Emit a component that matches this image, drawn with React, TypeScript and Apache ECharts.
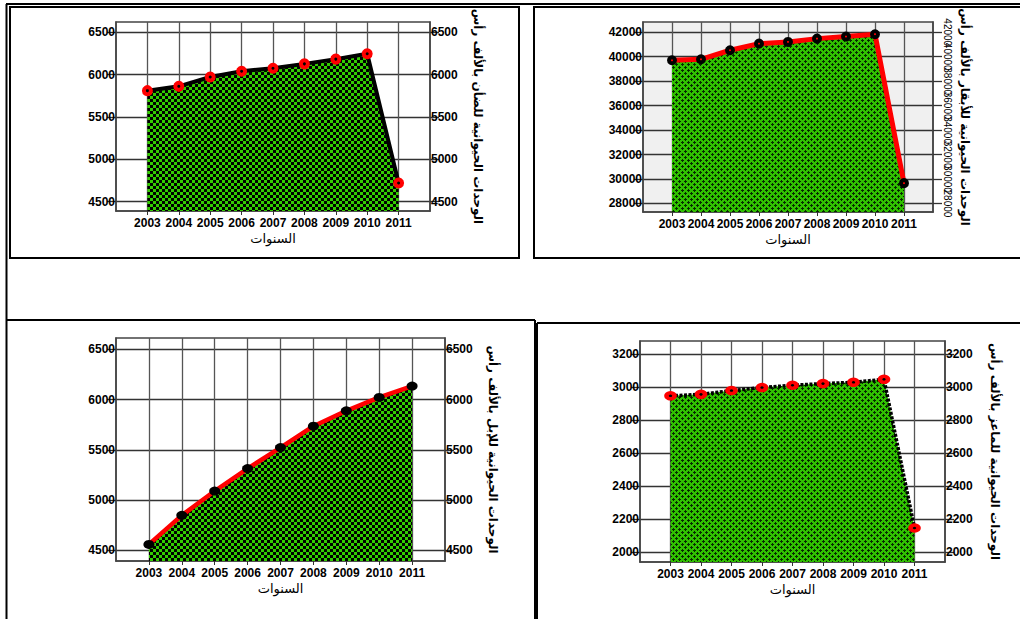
import React, { useEffect, useRef } from 'react';
import * as echarts from 'echarts';

const years = [2003, 2004, 2005, 2006, 2007, 2008, 2009, 2010, 2011];
const sheep = [5810, 5861, 5971, 6039, 6075, 6126, 6182, 6245, 4721];
const cattle = [39710, 39790, 40530, 41070, 41210, 41480, 41650, 41840, 29660];
const camels = [4560, 4849, 5091, 5314, 5523, 5736, 5889, 6022, 6135];
const goats = [2947, 2956, 2979, 2997, 3011, 3021, 3029, 3047, 2147];

const sheepTicks = [4500, 5000, 5500, 6000, 6500];
const cattleTicks = [28000, 30000, 32000, 34000, 36000, 38000, 40000, 42000];
const camelTicks = [4500, 5000, 5500, 6000, 6500];
const goatTicks = [2000, 2200, 2400, 2600, 2800, 3000, 3200];

const xTitle = 'السنوات';
const yTitles = [
  'الوحدات الحيوانية للضأن بالألف رأس',
  'الوحدات الحيوانية للأبقار بالألف رأس',
  'الوحدات الحيوانية للإبل بالألف رأس',
  'الوحدات الحيوانية للماعز بالألف رأس',
];

const NUM_FONT = 'Liberation Sans, Arial, sans-serif';
const AR_FONT = 'DejaVu Sans, Noto Sans, sans-serif';

function makeChecker(): HTMLCanvasElement {
  const c = document.createElement('canvas');
  c.width = 6;
  c.height = 6;
  const ctx = c.getContext('2d')!;
  ctx.fillStyle = '#000000';
  ctx.fillRect(0, 0, 6, 6);
  ctx.fillStyle = '#33cc00';
  ctx.fillRect(0, 0, 3, 3);
  ctx.fillRect(3, 3, 3, 3);
  return c;
}

function makeCross(): HTMLCanvasElement {
  const c = document.createElement('canvas');
  c.width = 6;
  c.height = 6;
  const ctx = c.getContext('2d')!;
  ctx.fillStyle = '#30c000';
  ctx.fillRect(0, 0, 6, 6);
  ctx.fillStyle = '#062a00';
  const plus = (x: number, y: number) => {
    ctx.fillRect(x, y - 1, 1, 3);
    ctx.fillRect(x - 1, y, 3, 1);
  };
  plus(1, 1);
  plus(4, 4);
  return c;
}

const pairs = (vals: number[]) => years.map((y, i) => [y, vals[i]]);
const plain = (v: number) => String(v);

export default function App() {
  const ref = useRef<HTMLDivElement>(null);
  useEffect(() => {
    if (!ref.current) return;
    const chart = echarts.init(ref.current, undefined, { renderer: 'svg' });
    const checker = { image: makeChecker(), repeat: 'repeat' } as any;
    const cross = { image: makeCross(), repeat: 'repeat' } as any;

    const grids = [
      { left: 116, top: 22, width: 314, height: 189 },
      { left: 643, top: 22, width: 290, height: 190, backgroundColor: '#f0f0f0' },
      { left: 116, top: 338, width: 329, height: 223 },
      { left: 640, top: 341, width: 305, height: 221 },
    ].map((g) => ({
      ...g,
      show: true,
      borderColor: '#444',
      borderWidth: 1.5,
      backgroundColor: (g as any).backgroundColor || '#ffffff',
    }));

    const ranges = [
      [4390, 6620],
      [27300, 42840],
      [4395, 6613],
      [1941, 3279],
    ];
    const tickSets = [sheepTicks, cattleTicks, camelTicks, goatTicks];
    const rightGaps = [42, 26, 42, 44];

    const xAxes = grids.map((_, i) => ({
      type: 'value',
      gridIndex: i,
      min: 2002,
      max: 2012,
      interval: 1,
      axisLine: { show: true, lineStyle: { color: '#444', width: 1.5 } },
      axisTick: { show: true, customValues: years, length: 4, lineStyle: { color: '#333' } },
      axisLabel: {
        customValues: years,
        color: '#000',
        fontFamily: NUM_FONT,
        fontWeight: 'bold',
        fontSize: 12,
        margin: 6,
        formatter: plain,
      },
      splitLine: { show: true, lineStyle: { color: '#555', width: 1.3 } },
      name: xTitle,
      nameLocation: 'middle',
      nameGap: 21,
      nameTextStyle: { color: '#000', fontFamily: AR_FONT, fontSize: 13 },
    }));

    const yAxes: any[] = [];
    grids.forEach((_, i) => {
      yAxes.push({
        type: 'value',
        gridIndex: i,
        position: 'left',
        min: ranges[i][0],
        max: ranges[i][1],
        axisLine: { show: true, lineStyle: { color: '#444', width: 1.5 } },
        axisTick: { show: true, customValues: tickSets[i], length: 9, lineStyle: { color: '#333', width: 1.3 } },
        axisLabel: {
          customValues: tickSets[i],
          color: '#000',
          fontFamily: NUM_FONT,
          fontWeight: 'bold',
          fontSize: 12,
          margin: 1,
          formatter: plain,
        },
        splitLine: { show: true, lineStyle: { color: '#333', width: 1.3 } },
      });
      yAxes.push({
        type: 'value',
        gridIndex: i,
        position: 'right',
        min: ranges[i][0],
        max: ranges[i][1],
        axisLine: { show: true, lineStyle: { color: '#444', width: 1.5 } },
        axisTick: { show: true, customValues: tickSets[i], length: 9, lineStyle: { color: '#333', width: 1.3 } },
        axisLabel:
          i === 1
            ? { show: false }
            : {
                customValues: tickSets[i],
                color: '#000',
                fontFamily: NUM_FONT,
                fontWeight: 'bold',
                fontSize: 12,
                margin: 1,
                formatter: plain,
              },
        splitLine: { show: false },
        name: yTitles[i],
        nameLocation: 'middle',
        nameRotate: -90,
        nameGap: rightGaps[i],
        nameTextStyle: { color: '#000', fontFamily: AR_FONT, fontSize: 12, fontWeight: 'bold' },
      });
    });

    const series: any[] = [
      {
        type: 'line',
        xAxisIndex: 0,
        yAxisIndex: 0,
        data: pairs(sheep),
        symbol: 'circle',
        symbolSize: 7,
        itemStyle: { color: '#000', borderColor: '#ff0000', borderWidth: 4 },
        lineStyle: { color: '#000', width: 4 },
        areaStyle: { color: checker, opacity: 1, origin: 'start' },
      },
      {
        type: 'line',
        xAxisIndex: 1,
        yAxisIndex: 2,
        data: pairs(cattle),
        symbol: 'circle',
        symbolSize: 6,
        itemStyle: { color: '#ff0000', borderColor: '#000', borderWidth: 4 },
        lineStyle: { color: '#ff0000', width: 5 },
        areaStyle: { color: cross, opacity: 1, origin: 'start' },
      },
      {
        type: 'line',
        xAxisIndex: 2,
        yAxisIndex: 4,
        data: pairs(camels),
        symbol: 'circle',
        symbolSize: [11, 9],
        itemStyle: { color: '#000' },
        lineStyle: { width: 0, opacity: 0 },
        areaStyle: { color: checker, opacity: 1, origin: 'start' },
      },
      {
        type: 'line',
        xAxisIndex: 2,
        yAxisIndex: 4,
        data: pairs(camels),
        showSymbol: false,
        lineStyle: { color: '#ff0000', width: 4.5 },
      },
      {
        type: 'line',
        xAxisIndex: 3,
        yAxisIndex: 6,
        data: pairs(goats),
        symbol: 'circle',
        symbolSize: [8, 6],
        itemStyle: { color: '#000', borderColor: '#ff0000', borderWidth: 4 },
        lineStyle: { color: '#000', width: 3.5, type: [3, 1.5], cap: 'butt' },
        areaStyle: { color: cross, opacity: 1, origin: 'start' },
      },
    ];

    const line = (x1: number, y1: number, x2: number, y2: number, w = 2, c = '#000') => ({
      type: 'line',
      silent: true,
      shape: { x1, y1, x2, y2 },
      style: { stroke: c, lineWidth: w },
    });
    const box = (x: number, y: number, w: number, h: number, lw = 2) => ({
      type: 'rect',
      silent: true,
      shape: { x, y, width: w, height: h },
      style: { stroke: '#000', fill: 'none', lineWidth: lw },
    });

    const frame: any[] = [
      line(6, 4, 1020, 4),
      line(6.5, 4, 6.5, 619),
      box(10, 7, 509, 251),
      box(534, 7, 500, 251),
      line(6, 320, 535, 320),
      line(535, 320, 535, 619),
      line(537, 323, 1020, 323),
      line(537, 323, 537, 619),
    ];

    chart.setOption({
      animation: false,
      backgroundColor: '#ffffff',
      grid: grids,
      xAxis: xAxes,
      yAxis: yAxes,
      series,
      graphic: frame,
    });

    // rotated tick labels of the cattle panel's right axis, placed through the axis scale
    const rightX = chart.convertToPixel({ xAxisIndex: 1 } as any, 2012) as number;
    const rotated = cattleTicks.map((v) => {
      const y = chart.convertToPixel({ yAxisIndex: 3 } as any, v) as number;
      return {
        type: 'text',
        silent: true,
        x: rightX + 14,
        y,
        rotation: -Math.PI / 2,
        style: {
          text: String(v),
          fill: '#000',
          font: `10px ${NUM_FONT}`,
          align: 'center',
          verticalAlign: 'middle',
        },
      };
    });
    chart.setOption({ graphic: [...frame, ...rotated] });

    return () => chart.dispose();
  }, []);
  return (
    <div
      ref={ref}
      style={{ position: 'absolute', left: 0, top: 0, width: 1020, height: 619 }}
    />
  );
}
